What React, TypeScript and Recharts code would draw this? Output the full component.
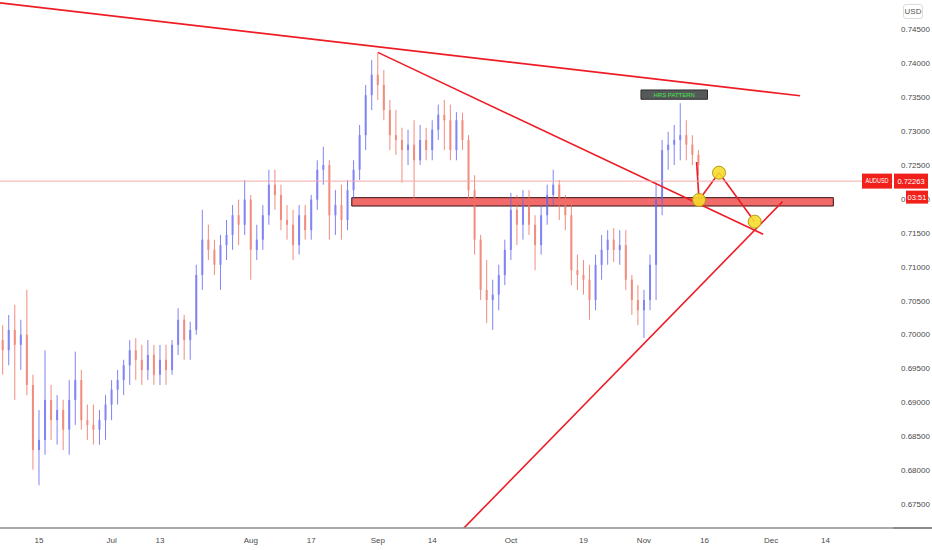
import React from 'react';
import {
  ComposedChart,
  Bar,
  XAxis,
  YAxis,
  ReferenceLine,
  ReferenceArea,
  ReferenceDot,
} from 'recharts';

// daily AUDUSD candles, Jun 5 -> Nov 13 (index = trading day)
const OPEN = [
  0.6992, 0.6977, 0.7007, 0.6985, 0.7000, 0.6926, 0.6830, 0.6845, 0.6904, 0.6874,
  0.6889, 0.6860, 0.6904, 0.6933, 0.6874, 0.6867, 0.6860, 0.6874, 0.6897, 0.6919,
  0.6933, 0.6955, 0.6977, 0.6963, 0.6948, 0.6970, 0.6941, 0.6963, 0.6948, 0.6985,
  0.7022, 0.6992, 0.7007, 0.7088, 0.7140, 0.7125, 0.7103, 0.7132, 0.7147, 0.7176,
  0.7162, 0.7199, 0.7125, 0.7140, 0.7176, 0.7221, 0.7206, 0.7169, 0.7162, 0.7132,
  0.7176, 0.7154, 0.7199, 0.7243, 0.7250, 0.7176, 0.7191, 0.7169, 0.7213, 0.7243,
  0.7294, 0.7353, 0.7383, 0.7368, 0.7331, 0.7294, 0.7287, 0.7272, 0.7280, 0.7257,
  0.7287, 0.7272, 0.7302, 0.7324, 0.7316, 0.7272, 0.7316, 0.7287, 0.7213, 0.7140,
  0.7066, 0.7051, 0.7059, 0.7088, 0.7125, 0.7184, 0.7162, 0.7191, 0.7162, 0.7132,
  0.7176, 0.7206, 0.7221, 0.7199, 0.7176, 0.7095, 0.7088, 0.7081, 0.7051, 0.7103,
  0.7125, 0.7140, 0.7125, 0.7132, 0.7081, 0.7051, 0.7036, 0.7051, 0.7103, 0.7199,
  0.7272, 0.7280, 0.7287, 0.7294, 0.7280, 0.7265,
];
const HIGH = [
  0.7014, 0.7029, 0.7044, 0.7022, 0.7066, 0.6941, 0.6889, 0.6977, 0.6926, 0.6911,
  0.6904, 0.6933, 0.6975, 0.6948, 0.6897, 0.6897, 0.6889, 0.6911, 0.6933, 0.6948,
  0.6963, 0.6992, 0.6995, 0.6985, 0.6992, 0.6985, 0.6985, 0.6985, 0.6992, 0.7039,
  0.7029, 0.7019, 0.7103, 0.7184, 0.7162, 0.7140, 0.7147, 0.7169, 0.7191, 0.7199,
  0.7228, 0.7206, 0.7162, 0.7191, 0.7243, 0.7243, 0.7221, 0.7191, 0.7184, 0.7191,
  0.7191, 0.7206, 0.7257, 0.7277, 0.7257, 0.7213, 0.7221, 0.7228, 0.7257, 0.7309,
  0.7368, 0.7405, 0.7415, 0.7390, 0.7346, 0.7331, 0.7305, 0.7302, 0.7316, 0.7309,
  0.7305, 0.7316, 0.7339, 0.7346, 0.7339, 0.7328, 0.7327, 0.7294, 0.7235, 0.7147,
  0.7110, 0.7081, 0.7103, 0.7140, 0.7209, 0.7206, 0.7213, 0.7213, 0.7176, 0.7191,
  0.7221, 0.7243, 0.7228, 0.7206, 0.7199, 0.7118, 0.7110, 0.7103, 0.7118, 0.7147,
  0.7154, 0.7157, 0.7154, 0.7154, 0.7088, 0.7073, 0.7066, 0.7118, 0.7224, 0.7287,
  0.7299, 0.7309, 0.7341, 0.7316, 0.7294, 0.7272,
];
const LOW = [
  0.6941, 0.6955, 0.6904, 0.6948, 0.6911, 0.6801, 0.6778, 0.6823, 0.6845, 0.6838,
  0.6830, 0.6823, 0.6867, 0.6860, 0.6845, 0.6838, 0.6838, 0.6845, 0.6874, 0.6897,
  0.6911, 0.6926, 0.6933, 0.6926, 0.6933, 0.6926, 0.6926, 0.6926, 0.6941, 0.6970,
  0.6963, 0.6963, 0.7000, 0.7066, 0.7110, 0.7088, 0.7066, 0.7110, 0.7125, 0.7132,
  0.7147, 0.7081, 0.7110, 0.7125, 0.7162, 0.7184, 0.7154, 0.7140, 0.7110, 0.7118,
  0.7140, 0.7140, 0.7184, 0.7221, 0.7140, 0.7147, 0.7140, 0.7154, 0.7199, 0.7228,
  0.7272, 0.7331, 0.7346, 0.7316, 0.7272, 0.7265, 0.7224, 0.7250, 0.7199, 0.7250,
  0.7257, 0.7257, 0.7287, 0.7272, 0.7257, 0.7257, 0.7272, 0.7199, 0.7118, 0.7051,
  0.7017, 0.7007, 0.7036, 0.7073, 0.7110, 0.7132, 0.7140, 0.7147, 0.7095, 0.7118,
  0.7162, 0.7191, 0.7169, 0.7154, 0.7073, 0.7066, 0.7059, 0.7022, 0.7036, 0.7081,
  0.7103, 0.7107, 0.7103, 0.7066, 0.7029, 0.7014, 0.6995, 0.7036, 0.7051, 0.7176,
  0.7243, 0.7250, 0.7257, 0.7257, 0.7250, 0.7235,
];
const CLOSE = [
  0.6977, 0.7007, 0.6985, 0.7000, 0.6926, 0.6830, 0.6845, 0.6904, 0.6874, 0.6889,
  0.6860, 0.6904, 0.6933, 0.6874, 0.6867, 0.6860, 0.6874, 0.6897, 0.6919, 0.6933,
  0.6955, 0.6977, 0.6963, 0.6948, 0.6970, 0.6941, 0.6963, 0.6948, 0.6985, 0.7022,
  0.6992, 0.7007, 0.7088, 0.7140, 0.7125, 0.7103, 0.7132, 0.7147, 0.7176, 0.7162,
  0.7199, 0.7125, 0.7140, 0.7176, 0.7221, 0.7206, 0.7169, 0.7162, 0.7132, 0.7176,
  0.7154, 0.7199, 0.7243, 0.7250, 0.7176, 0.7191, 0.7169, 0.7213, 0.7243, 0.7294,
  0.7353, 0.7383, 0.7368, 0.7331, 0.7294, 0.7287, 0.7272, 0.7280, 0.7257, 0.7287,
  0.7272, 0.7302, 0.7324, 0.7316, 0.7272, 0.7316, 0.7287, 0.7213, 0.7140, 0.7066,
  0.7051, 0.7059, 0.7088, 0.7125, 0.7184, 0.7162, 0.7191, 0.7162, 0.7132, 0.7176,
  0.7206, 0.7221, 0.7199, 0.7176, 0.7095, 0.7088, 0.7081, 0.7051, 0.7103, 0.7125,
  0.7140, 0.7125, 0.7132, 0.7081, 0.7051, 0.7036, 0.7051, 0.7103, 0.7199, 0.7272,
  0.7280, 0.7287, 0.7294, 0.7280, 0.7265, 0.7250,
];

const X_TICKS = [6, 18, 26, 41, 51, 62, 71, 84, 96, 106, 116, 127, 136];
const X_LABELS = ['15', 'Jul', '13', 'Aug', '17', 'Sep', '14', 'Oct', '19', 'Nov', '16', 'Dec', '14'];
const Y_TICKS = [
  0.675, 0.68, 0.685, 0.69, 0.695, 0.7, 0.705, 0.71, 0.715, 0.72, 0.725, 0.73, 0.735, 0.74, 0.745,
];
const LAST_PRICE = 0.72263;
const SYMBOL = 'AUDUSD';
const COUNTDOWN = '03:51';
const PATTERN_NAME = 'HRS PATTERN';

// drawings, in (bar index, price)
const TOP_TREND = [[-0.45, 0.7489], [131.8, 0.7352]];
const DOWN_TREND = [[62.0, 0.7416], [125.7, 0.7148]];
const UP_TREND = [[75.9, 0.6712], [128.9, 0.7196]];
const ZONE_X = [57.7, 137.3];
const ZONE_Y = [0.71896, 0.72019];
const LABEL_X = [105.5, 116.5];
const LABEL_Y = [0.73469, 0.73606];
const PATH = [[114.7, 0.72545], [115.1, 0.71985], [118.4, 0.72387], [124.3, 0.71665]];

const X_DOMAIN = [-0.446, 147.16];
const Y_DOMAIN = [0.67151, 0.74932];

const UP = '#6266f2';
const DOWN = '#f0705f';
const RED = '#ee1c25';
const TAG = '#f2201b';
const FONT = "'Liberation Sans Narrow', 'Liberation Sans', Arial, sans-serif";

const rows = OPEN.map((o, i) => ({
  i,
  open: o,
  high: HIGH[i],
  low: LOW[i],
  close: CLOSE[i],
  range: [LOW[i], HIGH[i]],
}));

function Candle(props: any) {
  const { x, y, width, height, payload } = props;
  if (x == null || y == null || !payload) return null;
  const { open, high, low, close } = payload;
  const h = Math.abs(height);
  const top0 = height < 0 ? y + height : y;
  const span = high - low || 1;
  const py = (v: number) => top0 + ((high - v) / span) * h;
  const color = close >= open ? UP : DOWN;
  const bTop = py(Math.max(open, close));
  const bBot = py(Math.min(open, close));
  const cx = x + width / 2;
  return (
    <g opacity={0.8}>
      <line x1={cx} x2={cx} y1={top0} y2={top0 + h} stroke={color} strokeWidth={1} />
      <rect x={cx - 1} y={bTop} width={2} height={Math.max(1, bBot - bTop)} fill={color} />
    </g>
  );
}

function XTick(props: any) {
  const { x, y, payload } = props;
  const idx = X_TICKS.indexOf(payload.value);
  return (
    <text x={x} y={y} dy="0.85em" textAnchor="middle" fontSize={8} fill="#4a4a4a" fontFamily={FONT}>
      {X_LABELS[idx] ?? ''}
    </text>
  );
}

// last-price tags; drawn as the final price-axis tick so they sit over the other tick texts
function PriceTags({ x, y }: { x: number; y: number }) {
  const left = x - 8;
  return (
    <g fontFamily={FONT} fontSize={7.5} fill="#fff" textAnchor="middle">
      <rect x={left - 31} y={y - 7.5} width={30} height={15} fill={TAG} />
      <text x={left - 16} y={y} dy="0.35em" fontSize={6.5} textLength={23} lengthAdjust="spacingAndGlyphs">
        {SYMBOL}
      </text>
      <rect x={left + 1} y={y - 7.5} width={34} height={15} fill={TAG} />
      <text x={left + 18} y={y} dy="0.35em">{LAST_PRICE.toFixed(5)}</text>
      <rect x={left + 13} y={y + 9.5} width={22} height={13} fill={TAG} />
      <text x={left + 24} y={y + 16} dy="0.35em">{COUNTDOWN}</text>
    </g>
  );
}

function YTick(props: any) {
  const { x, y, payload } = props;
  if (payload.value === LAST_PRICE) return <PriceTags x={x} y={y} />;
  return (
    <text x={x} y={y} dy="0.35em" textAnchor="start" fontSize={8} fill="#4a4a4a" fontFamily={FONT}>
      {payload.value.toFixed(5)}
    </text>
  );
}

function seg(p: number[][]) {
  return [
    { x: p[0][0], y: p[0][1] },
    { x: p[1][0], y: p[1][1] },
  ];
}

export default function App() {
  const pathSegs = PATH.slice(1).map((pt, k) => [PATH[k], pt]);
  return (
    <div style={{ position: 'absolute', left: 0, top: 0, width: 932, height: 550, background: '#fff' }}>
      <ComposedChart width={932} height={550} data={rows} margin={{ top: 0, right: 0, left: 0, bottom: 0 }}>
        <XAxis
          dataKey="i"
          type="number"
          domain={X_DOMAIN}
          allowDataOverflow
          ticks={X_TICKS}
          interval={0}
          tick={<XTick />}
          tickLine={false}
          axisLine={{ stroke: '#8c8c8c', strokeWidth: 1.5 }}
          height={22}
        />
        <YAxis
          orientation="right"
          type="number"
          domain={Y_DOMAIN}
          allowDataOverflow
          ticks={[...Y_TICKS, LAST_PRICE]}
          interval={0}
          tick={<YTick />}
          tickLine={false}
          axisLine={false}
          width={39}
        />
        <Bar dataKey="range" barSize={4} isAnimationActive={false} shape={<Candle />} />
        <ReferenceArea
          x1={ZONE_X[0]}
          x2={ZONE_X[1]}
          y1={ZONE_Y[0]}
          y2={ZONE_Y[1]}
          fill="#ee3a3a"
          fillOpacity={0.75}
          stroke="#3a1010"
          strokeWidth={1}
          ifOverflow="hidden"
        />
        <ReferenceLine segment={seg(TOP_TREND)} stroke={RED} strokeWidth={1.6} ifOverflow="hidden" />
        <ReferenceLine segment={seg(DOWN_TREND)} stroke={RED} strokeWidth={1.6} ifOverflow="hidden" />
        <ReferenceLine segment={seg(UP_TREND)} stroke={RED} strokeWidth={1.6} ifOverflow="hidden" />
        {pathSegs.map((s, k) => (
          <ReferenceLine key={k} segment={seg(s)} stroke={RED} strokeWidth={1.6} ifOverflow="hidden" />
        ))}
        {PATH.slice(1).map((pt, k) => (
          <ReferenceDot
            key={k}
            x={pt[0]}
            y={pt[1]}
            r={6.5}
            fill="#f7dc2e"
            fillOpacity={0.9}
            stroke="#b39a10"
            strokeWidth={1}
          />
        ))}
        <ReferenceArea
          x1={LABEL_X[0]}
          x2={LABEL_X[1]}
          y1={LABEL_Y[0]}
          y2={LABEL_Y[1]}
          fill="#555a58"
          fillOpacity={1}
          stroke="#2e2e2e"
          strokeWidth={1}
          label={{ value: PATTERN_NAME, fill: '#3fe84a', fontSize: 6, position: 'center', fontFamily: FONT }}
        />
        <ReferenceLine y={LAST_PRICE} stroke="#f6a9a9" strokeWidth={1} />
      </ComposedChart>
      <div style={{ position: 'absolute', left: 893, top: 527, width: 39, height: 1.5, background: '#8c8c8c' }} />
      <div
        style={{
          position: 'absolute',
          left: 903,
          top: 4,
          width: 18,
          height: 13,
          border: '1px solid #dcdcdc',
          borderRadius: 3,
          fontFamily: FONT,
          fontSize: 8,
          color: '#555',
          lineHeight: '13px',
          textAlign: 'center',
        }}
      >
        USD
      </div>
    </div>
  );
}
